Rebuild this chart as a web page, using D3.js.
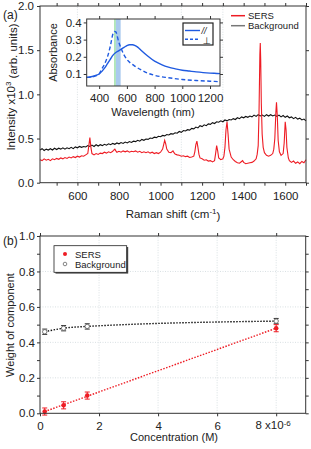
<!DOCTYPE html>
<html><head><meta charset="utf-8">
<script src="https://cdn.jsdelivr.net/npm/d3@7"></script>
<style>
body{margin:0;background:#fff;}
svg{display:block;font-family:"Liberation Sans",Arial,sans-serif;}
.tick text{font-size:11.5px;fill:#222;}
.domain{display:none;}
.tick line{stroke:#333;}
</style></head><body>
<svg id="c" width="311" height="449"></svg>
<script>
// ---------- DATA ----------
// Panel (a): SERS spectrum [Raman shift, intensity x1e3]
const sersShift = [420,430,440,450,460,470,480,490,500,510,520,530,540,550,560,570,580,590,600,610,620,630,640,650,655,660,665,670,680,690,700,710,720,730,740,750,760,770,775,780,785,790,800,810,820,830,840,850,860,870,880,890,900,910,920,930,940,950,960,970,980,990,1000,1010,1020,1025,1030,1040,1050,1060,1065,1070,1080,1090,1100,1110,1120,1130,1140,1150,1160,1165,1170,1175,1180,1185,1190,1200,1210,1220,1230,1240,1250,1260,1265,1270,1275,1280,1290,1300,1305,1310,1315,1320,1325,1330,1340,1350,1360,1370,1380,1390,1395,1400,1410,1420,1430,1440,1450,1460,1465,1470,1474,1478,1480,1482,1485,1489,1494,1500,1510,1520,1530,1540,1545,1550,1555,1558,1562,1566,1572,1580,1590,1595,1600,1604,1608,1615,1620,1630,1640,1650,1660,1670,1680,1690,1700];
const sersIntensity = [.26,.25,.27,.255,.265,.25,.27,.26,.275,.265,.28,.27,.285,.275,.29,.28,.295,.285,.30,.29,.305,.30,.315,.33,.42,.51,.40,.33,.315,.33,.32,.335,.33,.345,.335,.35,.34,.355,.37,.38,.36,.345,.355,.345,.36,.35,.36,.345,.355,.35,.36,.345,.355,.34,.35,.34,.35,.335,.345,.33,.34,.33,.345,.38,.48,.44,.38,.345,.34,.36,.34,.325,.315,.31,.30,.305,.295,.30,.285,.29,.30,.35,.43,.47,.40,.32,.28,.27,.255,.26,.245,.25,.235,.25,.33,.42,.36,.28,.26,.27,.30,.40,.60,.69,.55,.38,.29,.26,.24,.225,.22,.24,.25,.23,.215,.22,.225,.23,.245,.27,.32,.42,.80,1.45,1.58,1.40,.90,.55,.40,.34,.31,.30,.31,.33,.38,.50,.80,.91,.75,.48,.35,.31,.33,.45,.69,.60,.40,.28,.25,.23,.245,.22,.235,.215,.24,.225,.26];
// Panel (a): background spectrum, every 10 cm-1 from 420 to 1700
const bgShift = d3.range(420, 1701, 10);
const bgIntensity = [.37,.385,.365,.38,.37,.385,.37,.39,.375,.39,.38,.395,.38,.395,.385,.40,.385,.405,.395,.41,.40,.41,.405,.42,.41,.425,.41,.43,.415,.43,.42,.435,.425,.44,.43,.445,.435,.45,.44,.455,.445,.46,.45,.465,.455,.47,.465,.48,.47,.49,.48,.495,.49,.505,.50,.515,.51,.525,.52,.535,.53,.545,.54,.555,.55,.565,.56,.58,.57,.59,.585,.60,.595,.615,.61,.63,.62,.645,.635,.655,.645,.665,.66,.68,.67,.69,.685,.70,.69,.71,.70,.715,.71,.725,.715,.735,.725,.745,.735,.75,.74,.755,.745,.765,.75,.77,.755,.765,.75,.77,.755,.77,.755,.765,.75,.765,.745,.76,.74,.755,.735,.745,.725,.74,.72,.73,.71,.72,.70];
// Inset: absorbance spectra
const parWl = [310,350,380,400,420,440,460,480,500,520,540,560,580,600,620,640,660,680,700,750,800,850,900,950,1000,1050,1100,1150,1200,1250,1272];
const parAbs = [.08,.085,.093,.10,.115,.135,.16,.185,.21,.225,.235,.245,.255,.265,.27,.27,.265,.255,.24,.205,.175,.155,.14,.13,.122,.117,.112,.108,.105,.103,.102];
const perpWl = [310,350,380,400,420,440,460,480,500,510,520,540,560,580,600,650,700,750,800,900,1000,1100,1200,1272];
const perpAbs = [.08,.083,.09,.10,.13,.16,.20,.26,.335,.348,.345,.29,.245,.21,.185,.15,.125,.105,.092,.078,.068,.062,.058,.055];
const laserWl = 514;
const bandWl = [520, 555];
// Panel (b): weights vs concentration (x1e-6 M)
const conc = [0.16, 0.8, 1.6, 8];
const sersWeight = [0.01, 0.045, 0.10, 0.48];
const sersErr = [0.02, 0.02, 0.02, 0.02];
const bgWeight = [0.46, 0.48, 0.49, 0.52];
const bgErr = [0.015, 0.015, 0.015, 0.015];
const sersFitX = [0.16, 8];
const sersFitY = [0.01, 0.48];
// tick labels
const aXTicks = [600,800,1000,1200,1400,1600];
const aYTicks = [0,0.5,1.0,1.5,2.0];
const insetXTicks = [400,600,800,1000,1200];
const insetYTicks = [0.1,0.2,0.3,0.4];
const bXTicks = [0,2,4,6,8];
const bYTicks = [0,0.2,0.4,0.6,0.8,1.0];

// ---------- DRAW ----------
const svg = d3.select("#c");
const RED = "#ee1c24", BLUE = "#1f5ae0";
const FONT = "11.5px";

function frame(g, x, y){
  g.append("rect").attr("x", x.range()[0]).attr("y", y.range()[1])
    .attr("width", x.range()[1]-x.range()[0]).attr("height", y.range()[0]-y.range()[1])
    .attr("fill","none").attr("stroke","#333").attr("stroke-width",1);
}

// ----- Panel (a)
const ax = d3.scaleLinear().domain([420,1700]).range([40,306]);
const ay = d3.scaleLinear().domain([0,2.0]).range([182.7,6]);
const ga = svg.append("g");
[600,1100,1300].forEach(v=>{
  ga.append("line").attr("x1",ax(v)).attr("x2",ax(v)).attr("y1",ay(0)).attr("y2",ay(2))
    .attr("stroke","#cfd8dc").attr("stroke-width",0.8).attr("stroke-dasharray","1,1.5");
});
ga.append("g").attr("transform",`translate(0,${ay(0)})`)
  .call(d3.axisBottom(ax).tickValues(d3.range(500,1701,100)).tickSize(3).tickFormat(d=>aXTicks.includes(d)?d:""))
  .call(g=>g.selectAll("text").attr("dy","0.95em"));
ga.append("g").attr("transform",`translate(0,${ay(2)})`)
  .call(d3.axisTop(ax).tickValues(d3.range(500,1701,100)).tickSize(3).tickFormat(""));
ga.append("g").attr("transform",`translate(${ax(420)},0)`)
  .call(d3.axisLeft(ay).tickValues(aYTicks).tickSize(3).tickFormat(d3.format(".1f")))
  .call(g=>g.selectAll("text").attr("x",-6));
ga.append("g").attr("transform",`translate(${ax(1700)},0)`)
  .call(d3.axisRight(ay).tickValues(aYTicks).tickSize(3).tickFormat(""));

const lineA = d3.line().x(d=>ax(d[0])).y(d=>ay(d[1]));
ga.append("path").datum(d3.zip(bgShift,bgIntensity)).attr("d",lineA)
  .attr("fill","none").attr("stroke","#111").attr("stroke-width",1.1);
ga.append("path").datum(d3.zip(sersShift,sersIntensity)).attr("d",lineA)
  .attr("fill","none").attr("stroke",RED).attr("stroke-width",1.1);
frame(ga, ax, ay);

// legend (a)
ga.append("line").attr("x1",231).attr("x2",245).attr("y1",15.7).attr("y2",15.7).attr("stroke",RED).attr("stroke-width",1.5);
ga.append("line").attr("x1",231).attr("x2",245).attr("y1",25.7).attr("y2",25.7).attr("stroke","#777").attr("stroke-width",1.5);
ga.append("text").attr("x",248).attr("y",19).attr("font-size","9.5px").attr("fill","#222").text("SERS");
ga.append("text").attr("x",248).attr("y",29).attr("font-size","9.5px").attr("fill","#222").text("Background");

// axis titles (a)
const ta = svg.append("text").attr("transform","translate(15,87) rotate(-90)").attr("text-anchor","middle")
  .attr("font-size","11.5px").attr("fill","#222");
ta.append("tspan").text("Intensity x10");
ta.append("tspan").attr("dy","-0.45em").attr("font-size","8px").text("3");
ta.append("tspan").attr("dy","0.45em").text(" (arb. units)");
const tx = svg.append("text").attr("x",173).attr("y",218).attr("text-anchor","middle").attr("font-size","11.5px").attr("fill","#222");
tx.append("tspan").text("Raman shift (cm");
tx.append("tspan").attr("dy","-0.45em").attr("font-size","8px").text("-1");
tx.append("tspan").attr("dy","0.45em").text(")");
svg.append("text").attr("x",3).attr("y",19).attr("font-size","12px").attr("fill","#222").text("(a)");

// ----- Inset
const ix = d3.scaleLinear().domain([310,1272]).range([86.7,220]);
const iy = d3.scaleLinear().domain([0.03,0.42]).range([86,19]);
const gi = svg.append("g");
gi.append("rect").attr("x",ix(310)).attr("y",iy(0.42)).attr("width",ix(1272)-ix(310)).attr("height",iy(0.03)-iy(0.42)).attr("fill","#fff");
gi.append("rect").attr("x",ix(bandWl[0])).attr("width",ix(bandWl[1])-ix(bandWl[0])).attr("y",iy(0.42)).attr("height",iy(0.03)-iy(0.42))
  .attr("fill","#a9c9ee");
gi.append("line").attr("x1",ix(laserWl)).attr("x2",ix(laserWl)).attr("y1",iy(0.03)).attr("y2",iy(0.42)).attr("stroke","#6fd27c").attr("stroke-width",1);
gi.append("g").attr("transform",`translate(0,${iy(0.03)})`)
  .call(d3.axisBottom(ix).tickValues(insetXTicks).tickSize(3).tickFormat(d3.format("d")))
  .call(g=>g.selectAll("text").attr("dy","0.85em"));
gi.append("g").attr("transform",`translate(0,${iy(0.42)})`)
  .call(d3.axisTop(ix).tickValues(insetXTicks).tickSize(3).tickFormat(""));
gi.append("g").attr("transform",`translate(${ix(310)},0)`)
  .call(d3.axisLeft(iy).tickValues(insetYTicks).tickSize(3).tickFormat(d3.format(".1f")))
  .call(g=>g.selectAll("text").attr("x",-5));
gi.append("g").attr("transform",`translate(${ix(1272)},0)`)
  .call(d3.axisRight(iy).tickValues(insetYTicks).tickSize(3).tickFormat(""));
const lineI = d3.line().curve(d3.curveMonotoneX).x(d=>ix(d[0])).y(d=>iy(d[1]));
gi.append("path").datum(d3.zip(parWl,parAbs)).attr("d",lineI).attr("fill","none").attr("stroke",BLUE).attr("stroke-width",1.4);
gi.append("path").datum(d3.zip(perpWl,perpAbs)).attr("d",lineI).attr("fill","none").attr("stroke",BLUE).attr("stroke-width",1.4).attr("stroke-dasharray","4,2.5");
frame(gi, ix, iy);
// inset legend
gi.append("rect").attr("x",183).attr("y",23).attr("width",30).attr("height",22).attr("fill","#fff").attr("stroke","#222").attr("stroke-width",1.2);
gi.append("line").attr("x1",185).attr("x2",200).attr("y1",30.5).attr("y2",30.5).attr("stroke",BLUE).attr("stroke-width",1.4);
gi.append("line").attr("x1",185).attr("x2",200).attr("y1",39.3).attr("y2",39.3).attr("stroke",BLUE).attr("stroke-width",1.4).attr("stroke-dasharray","3,2");
gi.append("text").attr("x",201.5).attr("y",33.5).attr("font-size","9px").attr("font-style","italic").attr("fill","#222").text("//");
gi.append("text").attr("x",202.5).attr("y",43.5).attr("font-size","9.5px").attr("font-family","'DejaVu Sans',sans-serif").attr("fill","#222").text("⊥");
svg.append("text").attr("transform","translate(57,52.5) rotate(-90)").attr("text-anchor","middle").attr("font-size","11px").attr("fill","#222").text("Absorbance");
svg.append("text").attr("x",153).attr("y",116).attr("text-anchor","middle").attr("font-size","11px").attr("fill","#222").text("Wavelength (nm)");

// ----- Panel (b)
const bx = d3.scaleLinear().domain([0,9]).range([40,305.7]);
const by = d3.scaleLinear().domain([0,1.0]).range([413.3,236]);
const gb = svg.append("g");
[2,4,6,8].forEach(v=>gb.append("line").attr("x1",bx(v)).attr("x2",bx(v)).attr("y1",by(0)).attr("y2",by(1))
  .attr("stroke","#cfd8dc").attr("stroke-width",0.8).attr("stroke-dasharray","1,1.5"));
[0.2,0.4,0.6,0.8].forEach(v=>gb.append("line").attr("x1",bx(0)).attr("x2",bx(9)).attr("y1",by(v)).attr("y2",by(v))
  .attr("stroke","#cfd8dc").attr("stroke-width",0.8).attr("stroke-dasharray","1,1.5"));
gb.append("g").attr("transform",`translate(0,${by(0)})`)
  .call(d3.axisBottom(bx).tickValues(bXTicks).tickSize(3).tickFormat(d=>d===8?"":d))
  .call(g=>g.selectAll("text").attr("dy","0.95em"));
const l8 = gb.append("text").attr("x",bx(8)-3).attr("y",by(0)+16).attr("text-anchor","middle").attr("font-size",FONT).attr("fill","#222");
l8.append("tspan").text("8 x10");
l8.append("tspan").attr("dy","-0.45em").attr("font-size","8px").text("-6");
gb.append("g").attr("transform",`translate(0,${by(1)})`)
  .call(d3.axisTop(bx).tickValues(bXTicks).tickSize(3).tickFormat(""));
gb.append("g").attr("transform",`translate(${bx(0)},0)`)
  .call(d3.axisLeft(by).tickValues(d3.range(0,1.01,0.1)).tickSize(3).tickFormat(d=>bYTicks.some(t=>Math.abs(t-d)<1e-6)?d3.format(".1f")(d):""))
  .call(g=>g.selectAll("text").attr("x",-5));
gb.append("g").attr("transform",`translate(${bx(9)},0)`)
  .call(d3.axisRight(by).tickValues(d3.range(0,1.01,0.1)).tickSize(3).tickFormat(""));

gb.append("path").datum(d3.zip(sersFitX,sersFitY)).attr("d",d3.line().x(d=>bx(d[0])).y(d=>by(d[1])))
  .attr("fill","none").attr("stroke",RED).attr("stroke-width",1.4).attr("stroke-dasharray","1.5,1.5");
gb.append("path").datum(d3.zip(conc,bgWeight)).attr("d",d3.line().curve(d3.curveMonotoneX).x(d=>bx(d[0])).y(d=>by(d[1])))
  .attr("fill","none").attr("stroke","#111").attr("stroke-width",1.4).attr("stroke-dasharray","1.5,1.5");

function errbars(xs, ys, es, color){
  xs.forEach((c,i)=>{
    const x = bx(c), y1 = by(ys[i]-es[i]), y2 = by(ys[i]+es[i]);
    gb.append("line").attr("x1",x).attr("x2",x).attr("y1",y1).attr("y2",y2).attr("stroke",color).attr("stroke-width",1);
    [y1,y2].forEach(yy=>gb.append("line").attr("x1",x-2.5).attr("x2",x+2.5).attr("y1",yy).attr("y2",yy).attr("stroke",color).attr("stroke-width",1));
  });
}
errbars(conc, bgWeight, bgErr, "#333");
errbars(conc, sersWeight, sersErr, RED);
gb.selectAll(".bgpt").data(d3.zip(conc,bgWeight)).enter().append("circle")
  .attr("cx",d=>bx(d[0])).attr("cy",d=>by(d[1])).attr("r",2.2).attr("fill","#fff").attr("stroke","#666").attr("stroke-width",0.9);
gb.selectAll(".spt").data(d3.zip(conc,sersWeight)).enter().append("circle")
  .attr("cx",d=>bx(d[0])).attr("cy",d=>by(d[1])).attr("r",2.3).attr("fill",RED);
frame(gb, bx, by);

// legend (b)
gb.append("rect").attr("x",55.5).attr("y",247).attr("width",72.7).attr("height",26.6).attr("fill","#444");
gb.append("rect").attr("x",54).attr("y",245.7).attr("width",72.7).attr("height",26.6).attr("fill","#fff").attr("stroke","#222").attr("stroke-width",0.8);
gb.append("circle").attr("cx",65).attr("cy",254).attr("r",2).attr("fill",RED);
gb.append("circle").attr("cx",65).attr("cy",264).attr("r",1.8).attr("fill","#fff").attr("stroke","#666").attr("stroke-width",0.8);
gb.append("text").attr("x",75).attr("y",257.5).attr("font-size","9.5px").attr("fill","#222").text("SERS");
gb.append("text").attr("x",75).attr("y",267.5).attr("font-size","9.5px").attr("fill","#222").text("Background");

svg.append("text").attr("transform","translate(14,325) rotate(-90)").attr("text-anchor","middle").attr("font-size","11px").attr("fill","#222").text("Weight of component");
svg.append("text").attr("x",174).attr("y",441).attr("text-anchor","middle").attr("font-size","11px").attr("fill","#222").text("Concentration (M)");
svg.append("text").attr("x",3).attr("y",245).attr("font-size","12px").attr("fill","#222").text("(b)");
</script></body></html>
